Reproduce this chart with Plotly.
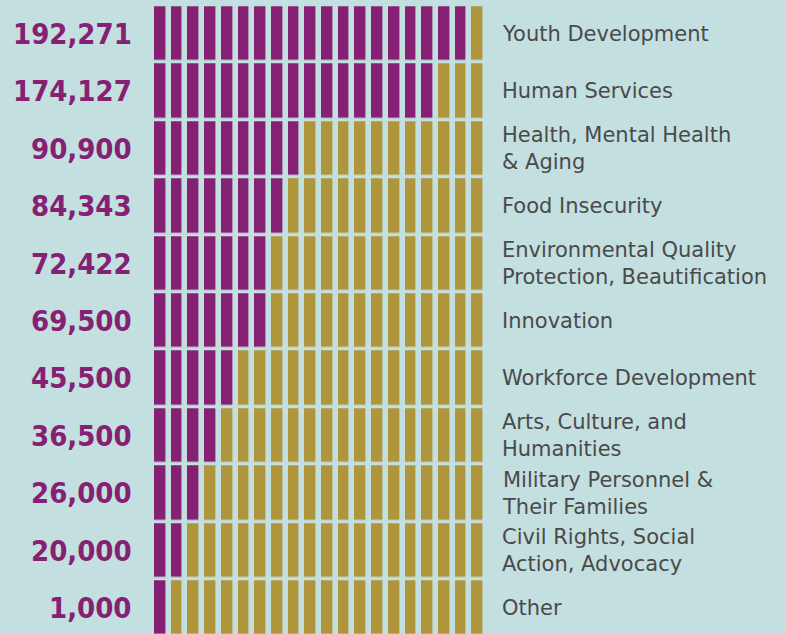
import plotly.graph_objects as go

# ---- data ----
categories = [
    "Youth Development",
    "Human Services",
    "Health, Mental Health<br>& Aging",
    "Food Insecurity",
    "Environmental Quality<br>Protection, Beautification",
    "Innovation",
    "Workforce Development",
    "Arts, Culture, and<br>Humanities",
    "Military Personnel &<br>Their Families",
    "Civil Rights, Social<br>Action, Advocacy",
    "Other",
]
values = [192271, 174127, 90900, 84343, 72422, 69500, 45500, 36500, 26000, 20000, 1000]
unit_size = 10000      # one segment = 10,000
n_segments = 20

# ---- styles ----
BG = "#C3DFE0"
PURPLE = "#862073"
GOLD = "#AF963C"
GRAY = "#4A4A4A"

units = [max(1, round(v / unit_size)) for v in values]
rows = list(range(len(values)))
z = [[1 if i < u else 0 for i in range(n_segments)] for u in units]

fig = go.Figure(
    go.Heatmap(
        z=z,
        x=list(range(n_segments)),
        y=rows,
        colorscale=[[0, GOLD], [0.5, GOLD], [0.5, PURPLE], [1, PURPLE]],
        zmin=0,
        zmax=1,
        showscale=False,
        xgap=5.6,
        ygap=3.5,
        hoverinfo="skip",
    )
)

W, H = 786, 634
ml, mr = 152, 786 - 486
for r, (v, c) in enumerate(zip(values, categories)):
    fig.add_annotation(
        x=-0.054, xref="paper", y=r, yref="y",
        text=f"<b>{v:,}</b>", showarrow=False,
        xanchor="right", yanchor="middle",
        font=dict(family="DejaVu Sans Condensed, DejaVu Sans", size=29, color=PURPLE),
    )
    fig.add_annotation(
        x=1.042, xref="paper", y=r, yref="y",
        text=c, showarrow=False, align="left",
        xanchor="left", yanchor="middle",
        font=dict(family="DejaVu Sans", size=21, color=GRAY),
    )

fig.update_layout(
    width=W, height=H,
    margin=dict(l=ml, r=mr, t=0, b=0, pad=0),
    paper_bgcolor=BG, plot_bgcolor=BG,
    xaxis=dict(visible=False, range=[-0.5, n_segments - 0.5], fixedrange=True),
    yaxis=dict(visible=False, range=[10.454, -0.5915], fixedrange=True),
    showlegend=False,
)

fig.write_html(
    "out.html",
    config={"displayModeBar": False},
    post_script="document.body.style.margin='0';document.body.style.overflow='hidden';",
)
